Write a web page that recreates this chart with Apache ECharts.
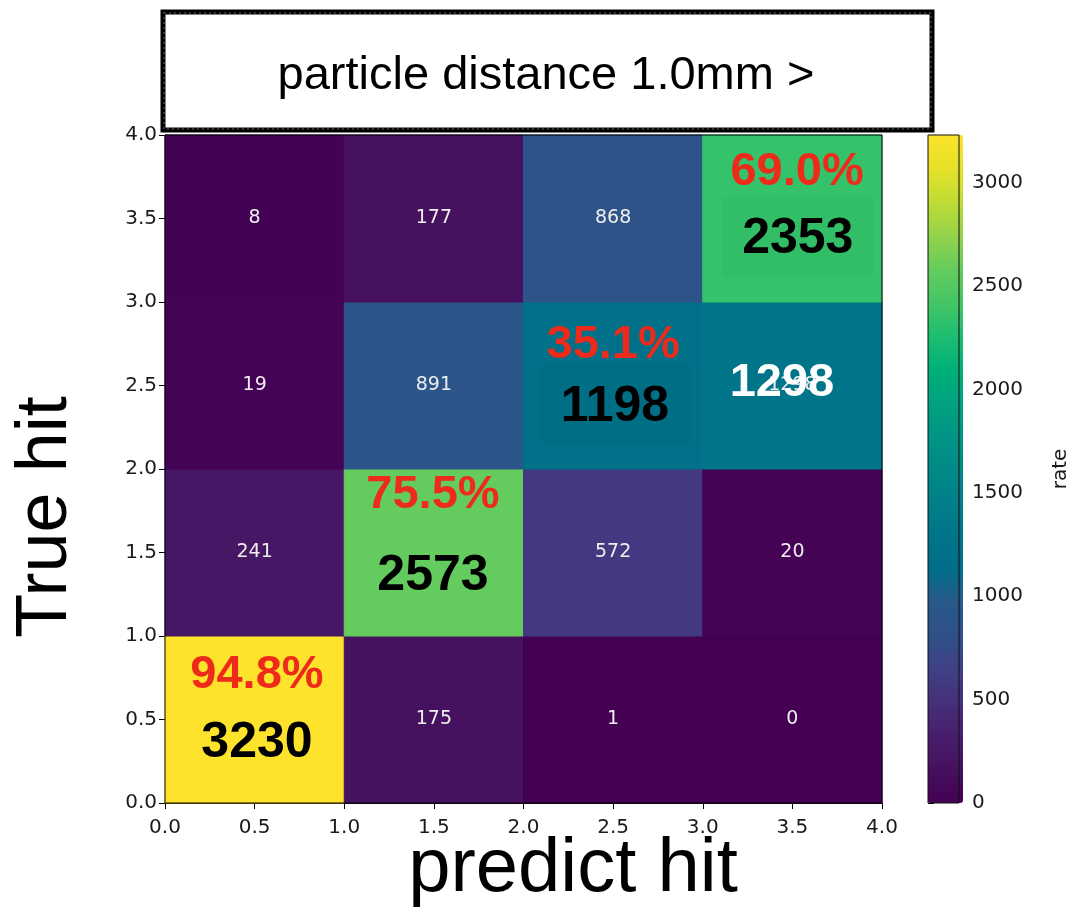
<!DOCTYPE html>
<html>
<head>
<meta charset="utf-8">
<script src="https://cdn.jsdelivr.net/npm/echarts@6/dist/echarts.min.js"></script>
<style>
  html, body { margin: 0; padding: 0; background: #fff; }
  #chart { width: 1072px; height: 912px; }
</style>
</head>
<body>
<div id="chart"></div>
<script>
// ---------------- data ----------------
const predictBins = [0, 1, 2, 3];          // x bin start (predict hit)
const trueBins = [0, 1, 2, 3];             // y bin start (True hit)
const countsTrue0 = [3230, 175, 1, 0];     // True hit 0-1
const countsTrue1 = [241, 2573, 572, 20];  // True hit 1-2
const countsTrue2 = [19, 891, 1198, 1298]; // True hit 2-3
const countsTrue3 = [8, 177, 868, 2353];   // True hit 3-4
const diagPercent = ['94.8%', '75.5%', '35.1%', '69.0%'];
const colorbarTicks = [0, 500, 1000, 1500, 2000, 2500, 3000];
const colorMin = 0;
const colorMax = 3230;
const titleText = 'particle distance 1.0mm >';
const xName = 'predict hit';
const yName = 'True hit';
const cbName = 'rate';
const overlayLabel = '1298';

// ---------------- layout / style (not data) ----------------
const PLOT = { left: 165, top: 135, width: 717, height: 668 };
const CB = { left: 928, top: 135, width: 35, height: 668 };
// annotation placement inside each diagonal cell (fraction of the cell)
const annoLayout = [
  { rx: 0.513, ry: 0.766, nx: 0.513, ny: 0.356 },
  { rx: 0.495, ry: 0.844, nx: 0.495, ny: 0.359 },
  { rx: 0.500, ry: 0.743, nx: 0.510, ny: 0.371 },
  { rx: 0.526, ry: 0.778, nx: 0.530, ny: 0.375 }
];
const shadeLayout = [
  null, null,
  { x0: 0.086, x1: 0.93, y0: 0.144, y1: 0.629, fill: 'rgba(0,0,0,0.025)' },
  { x0: 0.113, x1: 0.95, y0: 0.15, y1: 0.629, fill: 'rgba(0,0,0,0.022)' }
];
const overlayPos = { cx: 3.442, cy: 2.515 };

const viridisLike = [
  '#440154', '#46105e', '#471e6c', '#453079', '#3f4085', '#2f5088', '#29598a',
  '#006e89', '#007489', '#007f89', '#008a88', '#009585', '#00a27f', '#00b178',
  '#1fbe70', '#44c565', '#66cc5d', '#94d34a', '#c0dc36', '#e6e128', '#fde32c'
];

const tickFont = 'DejaVu Sans';

// ---------------- build heatmap data ----------------
const rows = [countsTrue0, countsTrue1, countsTrue2, countsTrue3];
const cells = [];
trueBins.forEach((ty, r) => {
  predictBins.forEach((px, c) => {
    cells.push([px, ty, rows[r][c]]);
  });
});
const diagData = trueBins.map((t, i) => [t, t, rows[i][i], i]);

const chart = echarts.init(document.getElementById('chart'), null, { renderer: 'canvas' });

const tickLabel = { fontFamily: tickFont, fontSize: 20, color: '#1a1a1a', margin: 8 };

const option = {
  animation: false,
  backgroundColor: '#fff',
  grid: [
    { left: PLOT.left, top: PLOT.top, width: PLOT.width, height: PLOT.height,
      show: true, borderColor: '#000', borderWidth: 1, backgroundColor: 'transparent', z: 10 },
    { left: CB.left, top: CB.top, width: CB.width, height: CB.height,
      show: true, borderColor: '#111', borderWidth: 1, backgroundColor: 'transparent', z: 10 }
  ],
  xAxis: [
    { type: 'value', gridIndex: 0, min: 0, max: 4, interval: 0.5,
      axisLine: { show: true, lineStyle: { color: '#000', width: 1 } },
      axisTick: { show: true, inside: false, length: 6, lineStyle: { color: '#000' } },
      axisLabel: Object.assign({}, tickLabel, { margin: 15, formatter: v => v.toFixed(1) }),
      splitLine: { show: false } },
    { type: 'value', gridIndex: 1, min: 0, max: 1, show: false }
  ],
  yAxis: [
    { type: 'value', gridIndex: 0, min: 0, max: 4, interval: 0.5,
      axisLine: { show: true, lineStyle: { color: '#000', width: 1 } },
      axisTick: { show: true, inside: false, length: 6, lineStyle: { color: '#000' } },
      axisLabel: Object.assign({}, tickLabel, { formatter: v => v.toFixed(1) }),
      splitLine: { show: false } },
    { type: 'value', gridIndex: 1, position: 'right', min: colorMin, max: colorMax,
      axisLine: { show: false },
      axisTick: { show: true, inside: false, length: 6, lineStyle: { color: '#000' },
        customValues: colorbarTicks },
      axisLabel: Object.assign({}, tickLabel, { margin: 13, customValues: colorbarTicks,
        formatter: v => String(Math.round(v)) }),
      splitLine: { show: false },
      name: cbName, nameLocation: 'middle', nameGap: 92, nameRotate: 90,
      nameTextStyle: { fontFamily: tickFont, fontSize: 20, color: '#1a1a1a' } }
  ],
  visualMap: [{
    type: 'continuous', min: colorMin, max: colorMax, dimension: 2, seriesIndex: 0,
    left: CB.left, top: CB.top, itemWidth: CB.width, itemHeight: CB.height,
    padding: 0, calculable: false, hoverLink: false, orient: 'vertical',
    inRange: { color: viridisLike }, z: 4
  }],
  graphic: [
    { type: 'rect', z: 100,
      shape: { x: 163, y: 12, width: 769, height: 118 },
      style: { fill: '#fff', stroke: '#000', lineWidth: 5 } },
    { type: 'rect', z: 101,
      shape: { x: 164, y: 13, width: 767, height: 116 },
      style: { fill: 'none', stroke: '#333', lineWidth: 2, lineDash: [2, 3] } },
    { type: 'text', z: 102, x: 546, y: 76,
      style: { text: titleText, font: '47px "Liberation Sans"', fill: '#000',
        align: 'center', verticalAlign: 'middle' } },
    { type: 'text', z: 102, x: 573, y: 870,
      style: { text: xName, font: '76px "Liberation Sans"', fill: '#000',
        align: 'center', verticalAlign: 'middle' } },
    { type: 'text', z: 102, x: 46, y: 517, rotation: Math.PI / 2,
      style: { text: yName, font: '72px "Liberation Sans"', fill: '#000',
        align: 'center', verticalAlign: 'middle' } }
  ],
  series: [
    {
      type: 'custom', xAxisIndex: 0, yAxisIndex: 0, data: cells,
      encode: { x: 0, y: 1 },
      renderItem: function (params, api) {
        const x = api.value(0), y = api.value(1), v = api.value(2);
        const tl = api.coord([x, y + 1]);
        const br = api.coord([x + 1, y]);
        const col = api.visual('color');
        const children = [{
          type: 'rect',
          shape: { x: tl[0], y: tl[1], width: br[0] - tl[0], height: br[1] - tl[1] },
          style: { fill: col, stroke: col, lineWidth: 1 }
        }];
        if (x !== y) {
          children.push({
            type: 'text',
            style: { text: String(v), x: (tl[0] + br[0]) / 2, y: (tl[1] + br[1]) / 2,
              align: 'center', verticalAlign: 'middle', fill: '#eeeeee',
              font: '19px "DejaVu Sans"' }
          });
        }
        return { type: 'group', children: children };
      },
      z: 2
    },
    {
      type: 'custom', xAxisIndex: 0, yAxisIndex: 0, data: diagData,
      encode: { x: 0, y: 1 },
      renderItem: function (params, api) {
        const c = api.value(0), v = api.value(2), i = api.value(3);
        const L = annoLayout[i];
        const children = [];
        const sh = shadeLayout[i];
        if (sh) {
          const a = api.coord([c + sh.x0, c + sh.y1]);
          const b = api.coord([c + sh.x1, c + sh.y0]);
          children.push({ type: 'rect',
            shape: { x: a[0], y: a[1], width: b[0] - a[0], height: b[1] - a[1] },
            style: { fill: sh.fill } });
        }
        const rp = api.coord([c + L.rx, c + L.ry]);
        const np = api.coord([c + L.nx, c + L.ny]);
        children.push({ type: 'text',
          style: { text: diagPercent[i], x: rp[0], y: rp[1], align: 'center', verticalAlign: 'middle',
            fill: '#ee2a1b', font: 'bold 47px "Liberation Sans"' } });
        children.push({ type: 'text',
          style: { text: String(v), x: np[0], y: np[1], align: 'center', verticalAlign: 'middle',
            fill: '#000', font: 'bold 50px "Liberation Sans"' } });
        if (i === 3) {
          const op = api.coord([overlayPos.cx, overlayPos.cy]);
          children.push({ type: 'text',
            style: { text: overlayLabel, x: op[0], y: op[1], align: 'center', verticalAlign: 'middle',
              fill: '#fff', font: 'bold 47px "Liberation Sans"' } });
        }
        return { type: 'group', children: children };
      },
      z: 5
    }
  ]
};
chart.setOption(option);
</script>
</body>
</html>
